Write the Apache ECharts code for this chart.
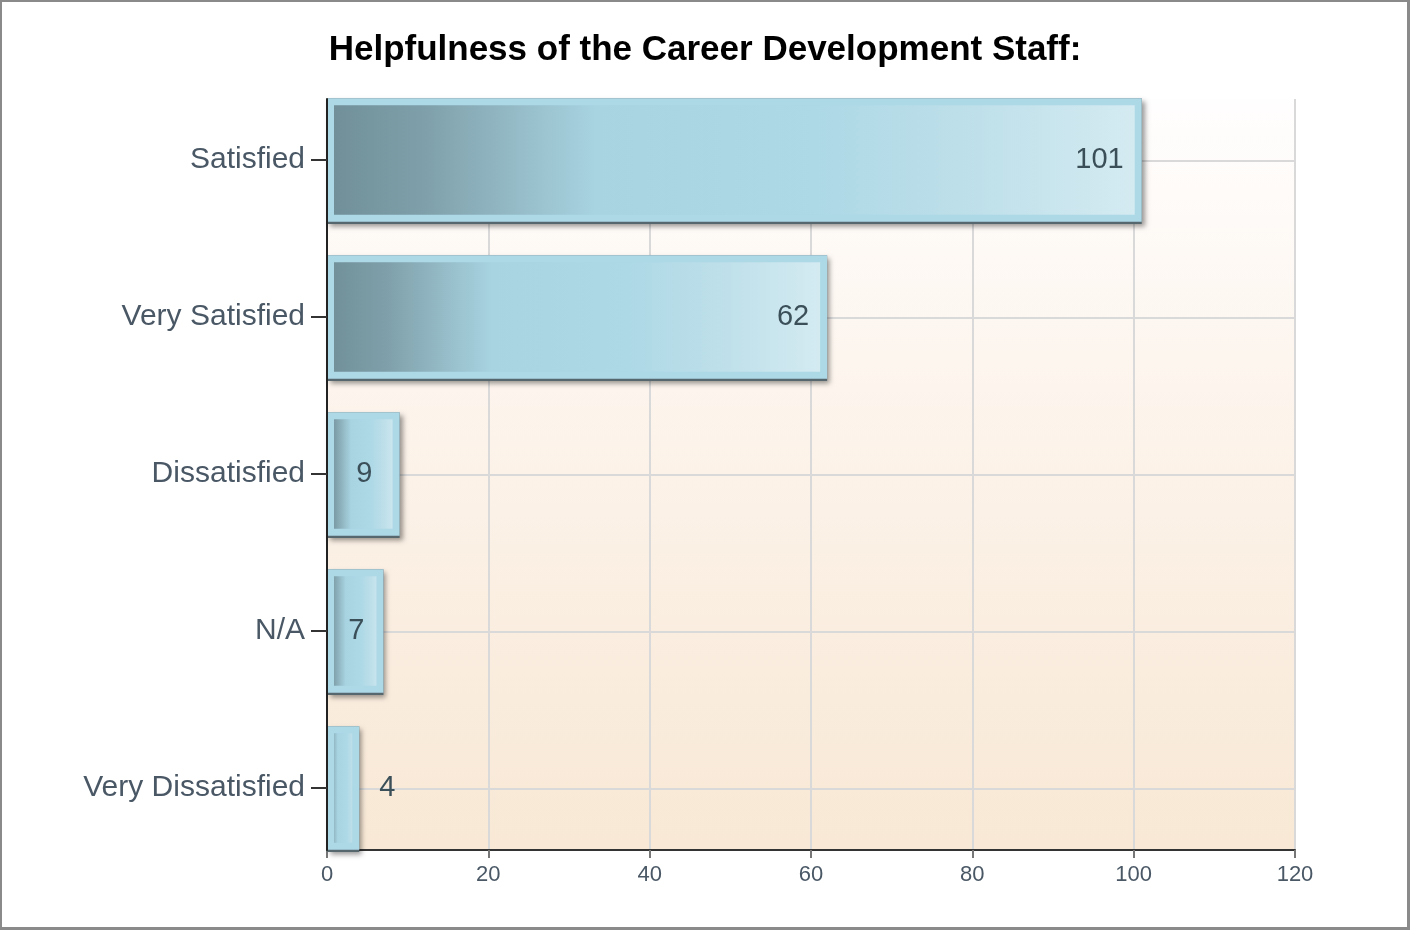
<!DOCTYPE html>
<html>
<head>
<meta charset="utf-8">
<script src="https://cdn.jsdelivr.net/npm/echarts@6/dist/echarts.min.js"></script>
<style>
html,body{margin:0;padding:0;background:#fff;}
#wrap{position:relative;width:1410px;height:930px;}
#chart{position:absolute;left:0;top:0;width:1410px;height:930px;}
#frame{position:absolute;left:0;top:0;width:1410px;height:930px;box-sizing:border-box;border:2px solid #8a8a8a;border-right-width:3px;border-bottom-width:3px;pointer-events:none;}
</style>
</head>
<body>
<div id="wrap"><div id="chart"></div><div id="frame"></div></div>
<script>
const titleText = 'Helpfulness of the Career Development Staff:';
const categories = ['Satisfied', 'Very Satisfied', 'Dissatisfied', 'N/A', 'Very Dissatisfied'];
const values = [101, 62, 9, 7, 4];
const xTicks = [0, 20, 40, 60, 80, 100, 120];

const FONT = '"Liberation Sans", Arial, sans-serif';
const chart = echarts.init(document.getElementById('chart'));

const fillGrad = new echarts.graphic.LinearGradient(0, 0, 1, 0, [
  {offset: 0, color: '#6f8e98'},
  {offset: 0.12, color: '#7fa0aa'},
  {offset: 0.33, color: '#a8d3e1'},
  {offset: 0.6, color: '#add8e6'},
  {offset: 0.8, color: '#bfe0ea'},
  {offset: 1, color: '#d5ebf2'}
]);

const frontData = values.map(v => {
  const d = {value: v};
  if (v < 5) d.label = {position: 'right', distance: 20};
  else if (v < 20) d.label = {position: 'inside', offset: [1, 0]};
  return d;
});

const xMin = xTicks[0], xMax = xTicks[xTicks.length - 1], xStep = xTicks[1] - xTicks[0];

chart.setOption({
  backgroundColor: '#ffffff',
  animation: false,
  title: {
    text: titleText,
    left: 'center',
    top: 28,
    textStyle: {fontFamily: FONT, fontSize: 35, fontWeight: 'bold', color: '#000'}
  },
  grid: [
    {
      left: 327, right: 115, top: 99, bottom: 80,
      show: true,
      borderWidth: 0,
      backgroundColor: new echarts.graphic.LinearGradient(0, 0, 0, 1, [
        {offset: 0, color: '#fffefe'},
        {offset: 0.5, color: '#fcf2e8'},
        {offset: 1, color: '#f8e8d5'}
      ])
    },
    {left: 327, right: 115, top: 81.5, bottom: 63.5, show: false}
  ],
  xAxis: [
    {
      type: 'value',
      gridIndex: 0,
      min: xMin, max: xMax, interval: xStep,
      axisLine: {show: true, lineStyle: {color: '#333', width: 2}},
      axisTick: {show: true, length: 8, lineStyle: {color: '#777', width: 2}},
      axisLabel: {fontFamily: FONT, fontSize: 22, color: '#4a5866', margin: 14},
      splitLine: {show: true, lineStyle: {color: '#d9d9d9', width: 2}}
    },
    {
      type: 'value',
      gridIndex: 1,
      min: xMin, max: xMax, interval: xStep,
      show: false
    }
  ],
  yAxis: [
    {
      type: 'category',
      gridIndex: 0,
      data: categories,
      inverse: true,
      z: 5,
      axisLine: {show: true, lineStyle: {color: '#222', width: 2}},
      axisTick: {show: false},
      axisLabel: {show: false},
      splitLine: {show: false}
    },
    {
      type: 'category',
      gridIndex: 1,
      data: categories,
      inverse: true,
      z: 5,
      axisLine: {show: false},
      axisTick: {show: true, alignWithLabel: true, length: 16, lineStyle: {color: '#333', width: 2}},
      axisLabel: {fontFamily: FONT, fontSize: 30, color: '#4a5866', margin: 22},
      splitLine: {show: false}
    }
  ],
  series: [
    {
      type: 'bar',
      xAxisIndex: 1,
      yAxisIndex: 1,
      data: values,
      barWidth: '80.2%',
      barGap: '-100%',
      silent: true,
      itemStyle: {
        color: '#56676d',
        shadowColor: 'rgba(0,0,0,0.4)',
        shadowBlur: 5,
        shadowOffsetX: 3,
        shadowOffsetY: 3
      },
      markLine: {
        silent: true,
        symbol: 'none',
        z: 1,
        label: {show: false},
        lineStyle: {color: '#d9d9d9', width: 2, type: 'solid'},
        data: categories.map(c => ({yAxis: c}))
      }
    },
    {
      type: 'bar',
      xAxisIndex: 1,
      yAxisIndex: 1,
      data: frontData,
      barWidth: '78.8%',
      barGap: '-100%',
      itemStyle: {
        color: fillGrad,
        borderColor: '#add8e6',
        borderWidth: 7
      },
      label: {
        show: true,
        position: 'insideRight',
        distance: 18,
        fontFamily: FONT,
        fontSize: 29,
        color: '#3b4f59'
      }
    }
  ]
});
</script>
</body>
</html>
